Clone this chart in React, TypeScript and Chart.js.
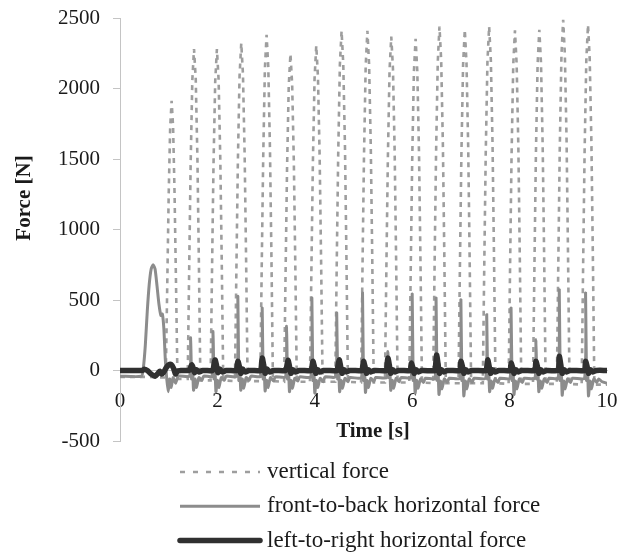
import React, { useEffect, useRef } from "react";
import { Chart, registerables } from "chart.js";

Chart.register(...registerables);

const seriesLabels = ["vertical force", "front-to-back horizontal force", "left-to-right horizontal force"];
const xTickValues = [0, 2, 4, 6, 8, 10];
const yTickValues = [-500, 0, 500, 1000, 1500, 2000, 2500];
const xTitle = "Time [s]";
const yTitle = "Force [N]";

// [time s, force N]
const verticalForce: [number, number][] = [
  [0, -45], [0.5, -45], [0.9, -50], [0.94, -50],
  [0.97, 600], [1.0, 1250], [1.03, 1720], [1.06, 1913], [1.09, 1730], [1.12, 1260], [1.15, 620], [1.18, -60], [1.39, -60],
  [1.42, 700], [1.45, 1450], [1.485, 2060], [1.52, 2280], [1.555, 2070], [1.59, 1500], [1.62, 760], [1.65, -70], [1.86, -70],
  [1.89, 720], [1.92, 1460], [1.955, 2050], [1.99, 2280], [2.025, 2060], [2.06, 1490], [2.09, 750], [2.12, -70], [2.36, -75],
  [2.39, 710], [2.42, 1470], [2.455, 2090], [2.49, 2322], [2.525, 2100], [2.56, 1520], [2.59, 770], [2.62, -75], [2.88, -75],
  [2.91, 730], [2.94, 1500], [2.975, 2140], [3.01, 2381], [3.045, 2150], [3.08, 1560], [3.11, 790], [3.14, -75], [3.37, -80],
  [3.4, 690], [3.43, 1430], [3.465, 2020], [3.5, 2246], [3.535, 2030], [3.57, 1470], [3.6, 740], [3.63, -80], [3.9, -80],
  [3.93, 710], [3.96, 1460], [3.995, 2070], [4.03, 2305], [4.065, 2080], [4.1, 1510], [4.13, 760], [4.16, -80], [4.42, -80],
  [4.45, 740], [4.48, 1520], [4.515, 2170], [4.55, 2409], [4.585, 2170], [4.62, 1580], [4.65, 790], [4.68, -80], [4.95, -85],
  [4.98, 740], [5.01, 1520], [5.045, 2160], [5.08, 2409], [5.115, 2170], [5.15, 1580], [5.18, 790], [5.21, -85], [5.44, -85],
  [5.47, 730], [5.5, 1500], [5.535, 2130], [5.57, 2369], [5.605, 2140], [5.64, 1550], [5.67, 780], [5.7, -85], [5.94, -85],
  [5.97, 720], [6.0, 1490], [6.035, 2120], [6.07, 2353], [6.105, 2120], [6.14, 1540], [6.17, 770], [6.2, -85], [6.43, -90],
  [6.46, 750], [6.49, 1540], [6.525, 2190], [6.56, 2440], [6.595, 2200], [6.63, 1600], [6.66, 800], [6.69, -90], [6.95, -90],
  [6.98, 740], [7.01, 1530], [7.045, 2170], [7.08, 2417], [7.115, 2180], [7.15, 1580], [7.18, 790], [7.21, -90], [7.45, -90],
  [7.48, 750], [7.51, 1540], [7.545, 2190], [7.58, 2440], [7.615, 2200], [7.65, 1600], [7.68, 800], [7.71, -90], [7.98, -95],
  [8.01, 740], [8.04, 1520], [8.075, 2170], [8.11, 2412], [8.145, 2170], [8.18, 1580], [8.21, 790], [8.24, -95], [8.48, -95],
  [8.51, 740], [8.54, 1530], [8.575, 2170], [8.61, 2417], [8.645, 2180], [8.68, 1580], [8.71, 790], [8.74, -95], [8.97, -95],
  [9.0, 760], [9.03, 1570], [9.065, 2240], [9.1, 2488], [9.135, 2240], [9.17, 1630], [9.2, 810], [9.23, -95], [9.48, -100],
  [9.51, 750], [9.54, 1550], [9.575, 2200], [9.61, 2452], [9.645, 2210], [9.68, 1610], [9.71, 800], [9.74, -100], [10, -100],
];

const frontToBackForce: [number, number][] = [
  [0, -40], [0.44, -40], [0.48, 20], [0.52, 180], [0.56, 420], [0.6, 610], [0.64, 720], [0.68, 750], [0.72, 720], [0.76, 600],
  [0.8, 470], [0.84, 390], [0.87, 400], [0.9, 300], [0.93, 80], [0.96, -60], [0.99, -150], [1.02, -60], [1.05, -120], [1.09, -50],
  [1.14, -90], [1.2, -40], [1.43, -40],
  [1.45, 233], [1.47, -60], [1.49, 20], [1.51, -140], [1.54, -60], [1.57, -120], [1.62, -50], [1.68, -70], [1.72, -40], [1.89, -40],
  [1.91, 277], [1.93, -60], [1.95, 10], [1.97, -150], [2.0, -70], [2.03, -120], [2.08, -50], [2.14, -70], [2.18, -40], [2.4, -40],
  [2.42, 526], [2.44, -70], [2.46, 20], [2.48, -140], [2.51, -60], [2.54, -125], [2.59, -50], [2.65, -70], [2.69, -40], [2.9, -40],
  [2.92, 443], [2.94, -60], [2.96, 10], [2.98, -145], [3.01, -70], [3.04, -120], [3.09, -50], [3.15, -75], [3.19, -45], [3.4, -45],
  [3.42, 313], [3.44, -60], [3.46, 15], [3.48, -150], [3.51, -70], [3.54, -125], [3.59, -55], [3.65, -75], [3.69, -45], [3.92, -45],
  [3.94, 514], [3.96, -70], [3.98, 20], [4.0, -160], [4.03, -70], [4.06, -120], [4.11, -55], [4.17, -80], [4.21, -45], [4.43, -45],
  [4.45, 408], [4.47, -60], [4.49, 10], [4.51, -150], [4.54, -70], [4.57, -125], [4.62, -55], [4.68, -80], [4.72, -50], [4.96, -50],
  [4.98, 550], [5.0, -70], [5.02, 20], [5.04, -155], [5.07, -70], [5.1, -120], [5.15, -55], [5.21, -80], [5.25, -50], [5.48, -50],
  [5.5, 135], [5.52, -50], [5.54, 10], [5.56, -140], [5.59, -70], [5.62, -125], [5.67, -55], [5.73, -80], [5.77, -50], [5.98, -50],
  [6.0, 542], [6.02, -70], [6.04, 20], [6.06, -160], [6.09, -70], [6.12, -125], [6.17, -60], [6.23, -85], [6.27, -55], [6.47, -55],
  [6.49, 514], [6.51, -70], [6.53, 15], [6.55, -170], [6.58, -75], [6.61, -130], [6.66, -60], [6.72, -85], [6.76, -55], [6.98, -55],
  [7.0, 502], [7.02, -70], [7.04, 15], [7.06, -180], [7.09, -75], [7.12, -130], [7.17, -60], [7.23, -85], [7.27, -55], [7.51, -55],
  [7.53, 396], [7.55, -60], [7.57, 10], [7.59, -150], [7.62, -75], [7.65, -125], [7.7, -60], [7.76, -85], [7.8, -55], [8.01, -55],
  [8.03, 443], [8.05, -70], [8.07, 15], [8.09, -170], [8.12, -75], [8.15, -130], [8.2, -60], [8.26, -85], [8.3, -55], [8.52, -55],
  [8.54, 218], [8.56, -60], [8.58, 10], [8.6, -150], [8.63, -75], [8.66, -125], [8.71, -60], [8.77, -85], [8.81, -55], [9.0, -55],
  [9.02, 573], [9.04, -70], [9.06, 15], [9.08, -175], [9.11, -75], [9.14, -130], [9.19, -60], [9.25, -85], [9.29, -55], [9.54, -55],
  [9.56, 550], [9.58, -70], [9.6, 15], [9.62, -180], [9.65, -75], [9.68, -130], [9.73, -60], [9.79, -85], [9.83, -60], [9.9, -80], [10, -90],
];

const leftToRightForce: [number, number][] = [
  [0, 0], [0.45, 0], [0.5, 8], [0.56, 0], [0.64, -25], [0.72, -40], [0.78, -20], [0.82, -5], [0.86, -25], [0.9, -10],
  [0.95, 20], [1.0, 40], [1.05, 42], [1.1, 15], [1.14, -25], [1.18, -5], [1.25, 0], [1.42, 0],
  [1.44, 10], [1.47, 40], [1.5, 20], [1.53, -15], [1.57, 5], [1.62, -10], [1.7, 0], [1.9, 0],
  [1.92, 20], [1.95, 75], [1.98, 40], [2.01, -15], [2.05, 10], [2.1, -10], [2.18, 0], [2.39, 0],
  [2.4, 15], [2.42, 65], [2.45, 30], [2.48, -20], [2.52, 10], [2.57, -10], [2.65, 0], [2.89, 0],
  [2.9, 20], [2.92, 88], [2.95, 40], [2.98, -20], [3.02, 10], [3.07, -10], [3.15, 0], [3.4, 0],
  [3.42, 20], [3.45, 72], [3.48, 30], [3.51, -20], [3.55, 5], [3.6, -10], [3.68, 0], [3.92, 0],
  [3.94, 20], [3.96, 65], [3.99, 30], [4.02, -20], [4.06, 5], [4.1, -10], [4.18, 0], [4.46, 0],
  [4.47, 20], [4.5, 75], [4.53, 30], [4.56, -20], [4.6, 5], [4.65, -10], [4.72, 0], [4.97, 0],
  [4.98, 20], [5.0, 65], [5.03, 30], [5.06, -20], [5.1, 5], [5.15, -10], [5.22, 0], [5.47, 0],
  [5.48, 25], [5.5, 88], [5.53, 40], [5.56, -20], [5.6, 5], [5.65, -10], [5.72, 0], [5.96, 0],
  [5.97, 15], [5.98, 52], [6.01, 25], [6.04, -20], [6.08, 5], [6.13, -10], [6.2, 0], [6.47, 0],
  [6.48, 30], [6.5, 110], [6.53, 50], [6.56, -20], [6.6, 5], [6.65, -10], [6.72, 0], [6.98, 0],
  [6.99, 20], [7.0, 65], [7.03, 30], [7.06, -20], [7.1, 5], [7.15, -10], [7.22, 0], [7.52, 0],
  [7.53, 20], [7.55, 75], [7.58, 30], [7.61, -20], [7.65, 5], [7.7, -10], [7.78, 0], [8.01, 0],
  [8.02, 15], [8.03, 52], [8.06, 25], [8.09, -20], [8.13, 5], [8.18, -10], [8.25, 0], [8.52, 0],
  [8.53, 20], [8.54, 65], [8.57, 30], [8.6, -20], [8.64, 5], [8.69, -10], [8.76, 0], [9.0, 0],
  [9.01, 30], [9.02, 100], [9.05, 45], [9.08, -20], [9.12, 5], [9.17, -10], [9.24, 0], [9.54, 0],
  [9.55, 20], [9.56, 65], [9.59, 30], [9.62, -20], [9.66, 5], [9.71, -10], [9.78, 0], [10, 0],
];

const FONT = "'Liberation Serif', 'Times New Roman', serif";
const TEXT_COLOR = "#1a1a1a";
const AXIS_COLOR = "#c4c4c4";

const toPoints = (arr: [number, number][]) => arr.map(([x, y]) => ({ x, y }));

const customPlugin = {
  id: "customTitlesLegend",
  afterDraw(chart: any) {
    const ctx = chart.ctx;
    const area = chart.chartArea;
    ctx.save();
    ctx.fillStyle = TEXT_COLOR;
    ctx.font = `bold 21px ${FONT}`;
    ctx.textAlign = "center";
    ctx.textBaseline = "middle";
    ctx.fillText(xTitle, area.left + 253, area.bottom - 9);
    ctx.save();
    ctx.translate(25, 198);
    ctx.rotate(-Math.PI / 2);
    ctx.fillText(yTitle, 0, 0);
    ctx.restore();

    const rowY0 = area.bottom + 31;
    const rowGap = 34.3;
    chart.data.datasets.forEach((ds: any, i: number) => {
      const y = rowY0 + i * rowGap;
      ctx.save();
      ctx.strokeStyle = ds.borderColor;
      ctx.lineWidth = ds.borderWidth;
      ctx.lineCap = i === 2 ? "round" : "butt";
      ctx.setLineDash(i === 0 ? [5, 8] : []);
      ctx.beginPath();
      ctx.moveTo(area.left + 60, y);
      ctx.lineTo(area.left + 140, y);
      ctx.stroke();
      ctx.restore();
      ctx.fillStyle = TEXT_COLOR;
      ctx.font = `23px ${FONT}`;
      ctx.textAlign = "left";
      ctx.textBaseline = "middle";
      ctx.fillText(ds.label, area.left + 147, y);
    });
    ctx.restore();
  },
};

export default function App() {
  const canvasRef = useRef<HTMLCanvasElement | null>(null);

  useEffect(() => {
    if (!canvasRef.current) return;
    const chart = new Chart(canvasRef.current, {
      type: "line",
      data: {
        datasets: [
          {
            label: seriesLabels[0],
            data: toPoints(verticalForce),
            borderColor: "#9e9e9e",
            borderWidth: 2.6,
            borderDash: [5, 5],
            pointRadius: 0,
            tension: 0,
            fill: false,
            order: 2,
          },
          {
            label: seriesLabels[1],
            data: toPoints(frontToBackForce),
            borderColor: "#8c8c8c",
            borderWidth: 3,
            pointRadius: 0,
            tension: 0.2,
            fill: false,
            order: 1,
          },
          {
            label: seriesLabels[2],
            data: toPoints(leftToRightForce),
            borderColor: "#303030",
            borderWidth: 5.5,
            pointRadius: 0,
            tension: 0.3,
            fill: false,
            order: 0,
          },
        ],
      },
      options: {
        animation: false,
        responsive: true,
        maintainAspectRatio: false,
        layout: { padding: { top: 18, left: 0, right: 10, bottom: 115 } },
        plugins: { legend: { display: false }, tooltip: { enabled: false }, title: { display: false } },
        scales: {
          x: {
            type: "linear",
            position: { y: 0 } as any,
            min: 0,
            max: 10,
            afterBuildTicks: (scale: any) => {
              scale.ticks = xTickValues.map((v) => ({ value: v }));
            },
            afterFit: (scale: any) => {
              scale.paddingLeft = 0;
              scale.paddingRight = 0;
              scale.paddingTop = 0;
              scale.paddingBottom = 0;
            },
            ticks: {
              font: { family: FONT, size: 21 },
              color: TEXT_COLOR,
              padding: 18,
              maxRotation: 0,
              callback: (v: any) => String(v),
            },
            grid: { display: false, drawTicks: false, drawOnChartArea: false },
            border: { display: true, color: AXIS_COLOR, width: 1 },
          },
          y: {
            type: "linear",
            position: "left",
            min: -500,
            max: 2500,
            afterBuildTicks: (scale: any) => {
              scale.ticks = yTickValues.map((v) => ({ value: v }));
            },
            afterFit: (scale: any) => {
              scale.width = 120;
              scale.paddingTop = 0;
              scale.paddingBottom = 0;
              scale.paddingLeft = 0;
              scale.paddingRight = 0;
            },
            ticks: {
              font: { family: FONT, size: 21 },
              color: TEXT_COLOR,
              padding: 13,
              callback: (v: any) => String(v),
            },
            grid: { drawOnChartArea: false, drawTicks: true, tickLength: 7, color: AXIS_COLOR },
            border: { display: true, color: AXIS_COLOR, width: 1 },
          },
        },
      },
      plugins: [customPlugin],
    });
    return () => chart.destroy();
  }, []);

  return (
    <div style={{ position: "absolute", left: 0, top: 0, width: 617, height: 556, background: "#fff" }}>
      <canvas ref={canvasRef} />
    </div>
  );
}
